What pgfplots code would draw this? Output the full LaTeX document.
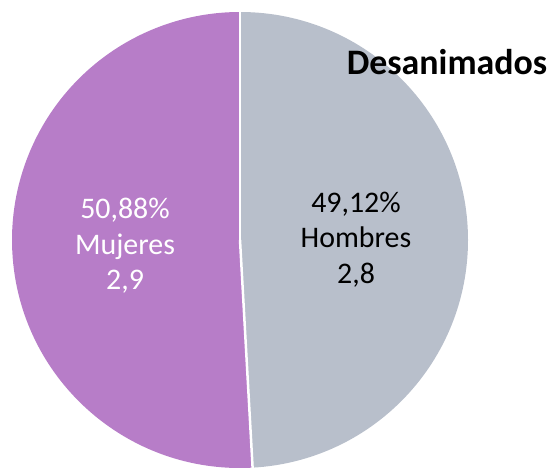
\documentclass[border=0pt]{standalone}
\usepackage{pgfplots}
\usepackage{pgfplotstable}
\pgfplotsset{compat=1.18}
\usepackage{fontspec}
\setmainfont{Carlito}
\definecolor{hcol}{HTML}{B8BFCB}
\definecolor{mcol}{HTML}{B77DC8}
\pgfplotstableread{
label value
Hombres 49.12
Mujeres 50.88
}\piedata
\begin{document}
\begin{tikzpicture}
\pgfplotstablegetelem{0}{value}\of\piedata
\let\vH\pgfplotsretval
\pgfmathsetmacro\aH{90-3.6*\vH}
\begin{axis}[width=554bp, height=465bp, scale only axis,
  xmin=0, xmax=554, ymin=0, ymax=465, hide axis, clip=false]
\path (axis cs:0,0) rectangle (axis cs:554,465);
\fill[hcol] (axis cs:240,225) -- ++(90:228bp) arc[start angle=90, end angle=\aH, radius=228bp] -- cycle;
\fill[mcol] (axis cs:240,225) -- ++(\aH:228bp) arc[start angle=\aH, end angle=-270, radius=228bp] -- cycle;
\draw[white, line width=2.5bp] (axis cs:240,225) -- ++(90:229bp);
\draw[white, line width=2.5bp] (axis cs:240,225) -- ++(\aH:229bp);
\begin{scope}[every node/.style={inner sep=0pt, anchor=base, font=\fontsize{30}{36}\selectfont}]
\node[white] at (axis cs:125,246) {50,88\%};
\node[white] at (axis cs:125,210) {Mujeres};
\node[white] at (axis cs:125,175) {2,9};
\node[black] at (axis cs:356,252) {49,12\%};
\node[black] at (axis cs:356,217) {Hombres};
\node[black] at (axis cs:356,181) {2,8};
\end{scope}
\node[inner sep=0pt, anchor=base, font=\bfseries\fontsize{36}{42}\selectfont] at (axis cs:447,390) {Desanimados};
\end{axis}
\end{tikzpicture}
\end{document}
